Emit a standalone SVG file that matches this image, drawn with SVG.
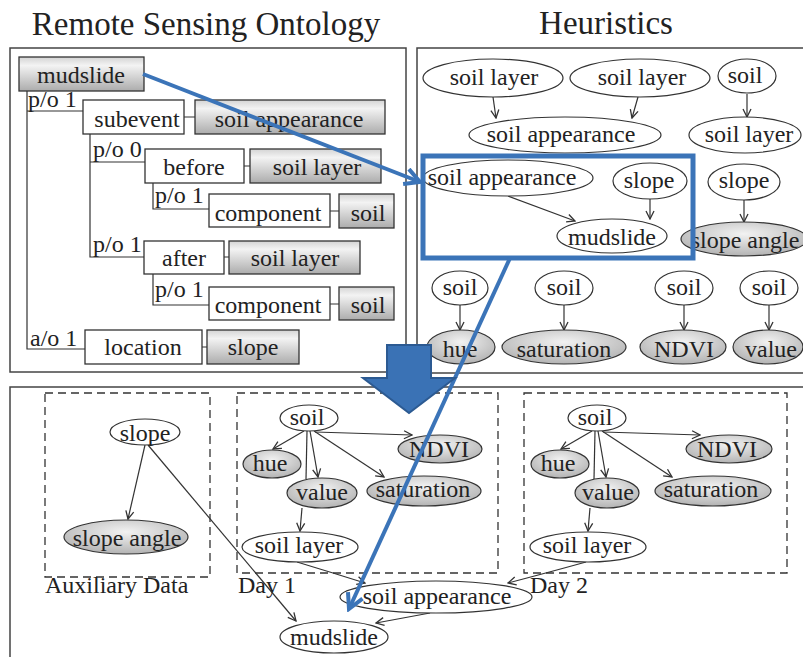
<svg xmlns="http://www.w3.org/2000/svg" width="803" height="657" viewBox="0 0 803 657">
<style>
text{font-family:"Liberation Serif","Times New Roman",serif;fill:#222;font-size:24px}
.t{font-size:33px}
.m{text-anchor:middle}
.panel{fill:none;stroke:#444;stroke-width:1.5}
.box{fill:#fff;stroke:#333;stroke-width:1.3}
.gbox{fill:url(#gg);stroke:#333;stroke-width:1.3}
.ell{fill:#fff;stroke:#333;stroke-width:1.2}
.gell{fill:url(#ge);stroke:#333;stroke-width:1.2}
.ln{fill:none;stroke:#333;stroke-width:1.2}
.ar{fill:none;stroke:#333;stroke-width:1.2;marker-end:url(#ah)}
.dash{fill:none;stroke:#333;stroke-width:1.3;stroke-dasharray:8 5}
.blue{fill:none;stroke:#3b74b8;stroke-width:4}
</style>
<defs>
<linearGradient id="gg" x1="0" y1="0" x2="0" y2="1">
<stop offset="0" stop-color="#d4d4d4"/><stop offset="0.25" stop-color="#f3f3f3"/><stop offset="1" stop-color="#acacac"/>
</linearGradient>
<radialGradient id="ge" cx="0.5" cy="0.35" r="0.65">
<stop offset="0" stop-color="#f2f2f2"/><stop offset="1" stop-color="#b3b3b3"/>
</radialGradient>
<marker id="ah" viewBox="0 0 10 10" refX="9" refY="5" markerWidth="10" markerHeight="10" markerUnits="userSpaceOnUse" orient="auto"><path d="M1,1 L9,5 L1,9" fill="none" stroke="#333" stroke-width="1.3"/></marker>
<marker id="bh" viewBox="0 0 10 10" refX="8.5" refY="5" markerWidth="20" markerHeight="20" markerUnits="userSpaceOnUse" orient="auto"><path d="M1,1 L8.5,5 L1,9" fill="none" stroke="#3b74b8" stroke-width="2"/></marker>
</defs>
<rect width="803" height="657" fill="#fff"/>

<g id="titles">
<text class="t m" x="206" y="35">Remote Sensing Ontology</text>
<text class="t m" x="606" y="34">Heuristics</text>
</g>

<g id="panels">
<rect class="panel" x="10" y="48" width="396" height="324"/>
<rect class="panel" x="417" y="48" width="400" height="325"/>
<rect class="panel" x="10" y="387" width="810" height="290"/>
<rect class="dash" x="45" y="393" width="165" height="184"/>
<rect class="dash" x="237" y="393" width="261" height="180"/>
<rect class="dash" x="524" y="393" width="263" height="180"/>
<text x="45" y="593">Auxiliary Data</text>
<text x="238" y="593">Day 1</text>
<text x="530" y="593">Day 2</text>
</g>

<g id="connectors">
<!-- ontology tree -->
<path class="ln" d="M27,91 V349 H85 M27,111 H83 M90,134 V257 H144 M90,162 H145 M153,183 V209 H209 M153,274 V305 H209"/>
<path class="ln" d="M184,117 H195 M244,166 H250 M330,211 H339 M224,257 H229 M330,304 H339 M202,347 H207"/>
<text x="28" y="107">p/o 1</text>
<text x="93" y="157">p/o 0</text>
<text x="155" y="203">p/o 1</text>
<text x="93" y="252">p/o 1</text>
<text x="155" y="297">p/o 1</text>
<text x="30" y="346">a/o 1</text>
<!-- heuristics -->
<line class="ar" x1="493" y1="97" x2="496" y2="118"/>
<line class="ar" x1="638" y1="97" x2="632" y2="118"/>
<line class="ar" x1="747" y1="94" x2="747" y2="117"/>
<line class="ar" x1="508" y1="196" x2="575" y2="221"/>
<line class="ar" x1="650" y1="199" x2="650" y2="219"/>
<line class="ar" x1="744" y1="200" x2="744" y2="222"/>
<line class="ar" x1="460" y1="305" x2="460" y2="330"/>
<line class="ar" x1="564" y1="305" x2="564" y2="330"/>
<line class="ar" x1="684" y1="305" x2="684" y2="330"/>
<line class="ar" x1="769" y1="305" x2="769" y2="330"/>
<!-- auxiliary -->
<line class="ar" x1="145" y1="445" x2="128" y2="519"/>
<line class="ar" x1="148" y1="445" x2="296" y2="621"/>
<!-- day 1 -->
<line class="ar" x1="304" y1="431" x2="273" y2="449"/>
<line class="ar" x1="315" y1="432" x2="412" y2="435"/>
<line class="ar" x1="310" y1="431" x2="318" y2="477"/>
<line class="ar" x1="314" y1="431" x2="384" y2="477"/>
<line class="ln" x1="307" y1="431" x2="306" y2="479"/>
<line class="ar" x1="302" y1="508" x2="300" y2="531"/>
<path class="ar" d="M297,562 Q330,572 365,583"/>
<!-- day 2 -->
<line class="ar" x1="592" y1="431" x2="561" y2="449"/>
<line class="ar" x1="603" y1="432" x2="700" y2="435"/>
<line class="ar" x1="598" y1="431" x2="606" y2="477"/>
<line class="ar" x1="602" y1="431" x2="672" y2="477"/>
<line class="ln" x1="595" y1="431" x2="594" y2="479"/>
<line class="ar" x1="590" y1="508" x2="588" y2="531"/>
<path class="ar" d="M586,562 Q550,572 508,583"/>
<!-- to mudslide -->
<line class="ar" x1="430" y1="613" x2="376" y2="623"/>
</g>

<g id="n-mudslide"><rect class="gbox" x="19" y="57" width="125" height="34"/><text class="m" x="81" y="83">mudslide</text></g>
<g id="n-subevent"><rect class="box" x="83" y="100" width="101" height="34"/><text class="m" x="137" y="127">subevent</text></g>
<g id="n-soilapp1"><rect class="gbox" x="195" y="100" width="190" height="34"/><text class="m" x="289" y="127">soil appearance</text></g>
<g id="n-before"><rect class="box" x="145" y="149" width="99" height="34"/><text class="m" x="194" y="175">before</text></g>
<g id="n-soillayer1"><rect class="gbox" x="250" y="149" width="131" height="34"/><text class="m" x="317" y="175">soil layer</text></g>
<g id="n-component1"><rect class="box" x="209" y="194" width="121" height="33"/><text class="m" x="268" y="221">component</text></g>
<g id="n-soil1"><rect class="gbox" x="339" y="194" width="55" height="34"/><text class="m" x="368" y="221">soil</text></g>
<g id="n-after"><rect class="box" x="144" y="241" width="80" height="33"/><text class="m" x="184" y="266">after</text></g>
<g id="n-soillayer2"><rect class="gbox" x="229" y="241" width="131" height="33"/><text class="m" x="295" y="266">soil layer</text></g>
<g id="n-component2"><rect class="box" x="209" y="287" width="121" height="33"/><text class="m" x="268" y="313">component</text></g>
<g id="n-soil2"><rect class="gbox" x="339" y="287" width="55" height="33"/><text class="m" x="368" y="313">soil</text></g>
<g id="n-location"><rect class="box" x="85" y="330" width="117" height="34"/><text class="m" x="143" y="355">location</text></g>
<g id="n-slope1"><rect class="gbox" x="207" y="330" width="92" height="34"/><text class="m" x="253" y="355">slope</text></g>

<g id="h-soillayer-a"><ellipse class="ell" cx="493" cy="78" rx="70" ry="19"/><text class="m" x="494" y="85">soil layer</text></g>
<g id="h-soillayer-b"><ellipse class="ell" cx="640" cy="78" rx="70" ry="19"/><text class="m" x="642" y="85">soil layer</text></g>
<g id="h-soil-a"><ellipse class="ell" cx="747" cy="76" rx="29" ry="17"/><text class="m" x="745" y="83">soil</text></g>
<g id="h-soilapp-a"><ellipse class="ell" cx="565" cy="135" rx="96" ry="18"/><text class="m" x="561" y="142">soil appearance</text></g>
<g id="h-soillayer-c"><ellipse class="ell" cx="745" cy="135" rx="56" ry="18"/><text class="m" x="749" y="142">soil layer</text></g>
<g id="h-soilapp-b"><ellipse class="ell" cx="508" cy="178" rx="85" ry="18"/><text class="m" x="502" y="185">soil appearance</text></g>
<g id="h-slope-a"><ellipse class="ell" cx="650" cy="181" rx="37" ry="18"/><text class="m" x="649" y="188">slope</text></g>
<g id="h-mudslide"><ellipse class="ell" cx="612" cy="236" rx="55" ry="17"/><text class="m" x="612" y="245">mudslide</text></g>
<g id="h-slope-b"><ellipse class="ell" cx="744" cy="182" rx="36" ry="18"/><text class="m" x="744" y="188">slope</text></g>
<g id="h-slopeangle"><ellipse class="gell" cx="744" cy="239" rx="63" ry="17"/><text class="m" x="745" y="248">slope angle</text></g>
<g id="h-soil-b"><ellipse class="ell" cx="460" cy="288" rx="28" ry="17"/><text class="m" x="460" y="295">soil</text></g>
<g id="h-soil-c"><ellipse class="ell" cx="564" cy="288" rx="29" ry="17"/><text class="m" x="564" y="295">soil</text></g>
<g id="h-soil-d"><ellipse class="ell" cx="684" cy="288" rx="29" ry="17"/><text class="m" x="684" y="295">soil</text></g>
<g id="h-soil-e"><ellipse class="ell" cx="769" cy="288" rx="29" ry="17"/><text class="m" x="769" y="295">soil</text></g>
<g id="h-hue"><ellipse class="gell" cx="461" cy="347" rx="34" ry="17"/><text class="m" x="460" y="357">hue</text></g>
<g id="h-saturation"><ellipse class="gell" cx="564" cy="347" rx="62" ry="17"/><text class="m" x="564" y="357">saturation</text></g>
<g id="h-ndvi"><ellipse class="gell" cx="683" cy="347" rx="43" ry="17"/><text class="m" x="684" y="357">NDVI</text></g>
<g id="h-value"><ellipse class="gell" cx="768" cy="347" rx="35" ry="17"/><text class="m" x="771" y="357">value</text></g>

<g id="a-slope"><ellipse class="ell" cx="145" cy="432" rx="35" ry="13"/><text class="m" x="145" y="441">slope</text></g>
<g id="a-slopeangle"><ellipse class="gell" cx="126" cy="537" rx="62" ry="17"/><text class="m" x="127" y="546">slope angle</text></g>

<g id="d1-soil"><ellipse class="ell" cx="309" cy="418" rx="29" ry="13"/><text class="m" x="307" y="425">soil</text></g>
<g id="d1-hue"><ellipse class="gell" cx="272" cy="464" rx="29" ry="14"/><text class="m" x="270" y="471">hue</text></g>
<g id="d1-ndvi"><ellipse class="gell" cx="440" cy="449" rx="42" ry="14"/><text class="m" x="439" y="457">NDVI</text></g>
<g id="d1-value"><ellipse class="gell" cx="322" cy="493" rx="35" ry="15"/><text class="m" x="322" y="500">value</text></g>
<g id="d1-saturation"><ellipse class="gell" cx="424" cy="491" rx="57" ry="15"/><text class="m" x="423" y="497">saturation</text></g>
<g id="d1-soillayer"><ellipse class="ell" cx="300" cy="547" rx="58" ry="15"/><text class="m" x="299" y="553">soil layer</text></g>

<g id="d2-soil"><ellipse class="ell" cx="597" cy="418" rx="29" ry="13"/><text class="m" x="595" y="425">soil</text></g>
<g id="d2-hue"><ellipse class="gell" cx="560" cy="464" rx="29" ry="14"/><text class="m" x="558" y="471">hue</text></g>
<g id="d2-ndvi"><ellipse class="gell" cx="729" cy="449" rx="43" ry="14"/><text class="m" x="727" y="457">NDVI</text></g>
<g id="d2-value"><ellipse class="gell" cx="607" cy="493" rx="32" ry="15"/><text class="m" x="608" y="500">value</text></g>
<g id="d2-saturation"><ellipse class="gell" cx="713" cy="491" rx="58" ry="15"/><text class="m" x="711" y="497">saturation</text></g>
<g id="d2-soillayer"><ellipse class="ell" cx="588" cy="547" rx="58" ry="15"/><text class="m" x="587" y="553">soil layer</text></g>

<g id="b-soilapp"><ellipse class="ell" cx="436" cy="597" rx="96" ry="16"/><text class="m" x="437" y="604">soil appearance</text></g>
<g id="b-mudslide"><ellipse class="ell" cx="334" cy="637" rx="54" ry="16"/><text class="m" x="334" y="645">mudslide</text></g>

<g id="highlight">
<rect x="423" y="156" width="270" height="102" fill="none" stroke="#3b74b8" stroke-width="5"/>
<line class="blue" x1="143" y1="74" x2="420" y2="182" marker-end="url(#bh)"/>
<line class="blue" x1="510" y1="258" x2="349" y2="609" marker-end="url(#bh)"/>
<polygon points="387,345 431,345 431,378 455,378 409,413 363,378 387,378" fill="#3a72b5" stroke="#2c5a92" stroke-width="2" stroke-linejoin="miter"/>
</g>
</svg>
